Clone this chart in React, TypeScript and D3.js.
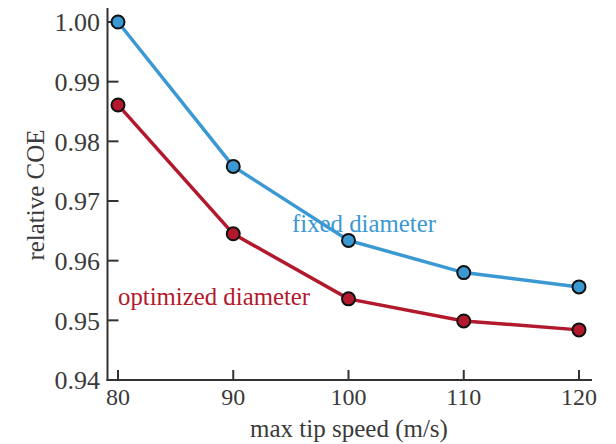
import React from "react";
import * as d3 from "d3";

const speeds = [80, 90, 100, 110, 120];
const fixedDiameter = [1.0, 0.9758, 0.9634, 0.958, 0.9556];
const optimizedDiameter = [0.9861, 0.9645, 0.9536, 0.9499, 0.9484];
const xTicks = [80, 90, 100, 110, 120];
const yTicks = [0.94, 0.95, 0.96, 0.97, 0.98, 0.99, 1.0];
const seriesNames = ["fixed diameter", "optimized diameter"];

const W = 616;
const H = 444;
const FONT = "'Liberation Serif', 'Times New Roman', serif";
const BLUE = "#3a98d3";
const RED = "#b3192c";

export default function App() {
  const x = d3.scaleLinear().domain([80, 120]).range([118, 579]);
  const y = d3.scaleLinear().domain([0.94, 1.0]).range([380, 22]);
  const axisX0 = 107.5;
  const axisY0 = 380;
  const line = d3
    .line<number>()
    .x((_, i) => x(speeds[i]))
    .y((d) => y(d));

  const series = [
    { name: seriesNames[0], values: fixedDiameter, color: BLUE, lx: 292, ly: 232 },
    { name: seriesNames[1], values: optimizedDiameter, color: RED, lx: 118, ly: 305 },
  ];

  return (
    <svg
      width={W}
      height={H}
      style={{ position: "absolute", left: 0, top: 0, background: "#fff" }}
      fontFamily={FONT}
    >
      <line x1={axisX0} x2={axisX0} y1={8} y2={axisY0 + 1} stroke="#333" strokeWidth={2} />
      <line x1={axisX0 - 1} x2={592} y1={axisY0} y2={axisY0} stroke="#333" strokeWidth={2} />
      {yTicks.map((t) => (
        <g key={"y" + t}>
          {t !== 0.94 && (
            <line x1={axisX0} x2={axisX0 + 11} y1={y(t)} y2={y(t)} stroke="#333" strokeWidth={2} />
          )}
          <text x={100} y={y(t)} dy="0.36em" textAnchor="end" fontSize={26} fill="#3a3a3a">
            {t.toFixed(2)}
          </text>
        </g>
      ))}
      {xTicks.map((t) => (
        <g key={"x" + t}>
          <line x1={x(t)} x2={x(t)} y1={axisY0} y2={axisY0 - 10} stroke="#333" strokeWidth={2} />
          <text x={x(t)} y={405} textAnchor="middle" fontSize={24} fill="#3a3a3a">
            {t}
          </text>
        </g>
      ))}
      <text x={349} y={437} textAnchor="middle" fontSize={25} fill="#3a3a3a">
        max tip speed (m/s)
      </text>
      <text
        transform={`translate(44,195) rotate(-90)`}
        textAnchor="middle"
        fontSize={25}
        fill="#3a3a3a"
      >
        relative COE
      </text>

      {series.map((s) => (
        <g key={s.name}>
          <path d={line(s.values) || ""} fill="none" stroke={s.color} strokeWidth={3.5} />
          {s.values.map((v, i) => (
            <circle key={i} cx={x(speeds[i])} cy={y(v)} r={6.5} fill={s.color} stroke="#111" strokeWidth={2} />
          ))}
          <text x={s.lx} y={s.ly} fontSize={24.8} fill={s.color}>
            {s.name}
          </text>
        </g>
      ))}
    </svg>
  );
}
